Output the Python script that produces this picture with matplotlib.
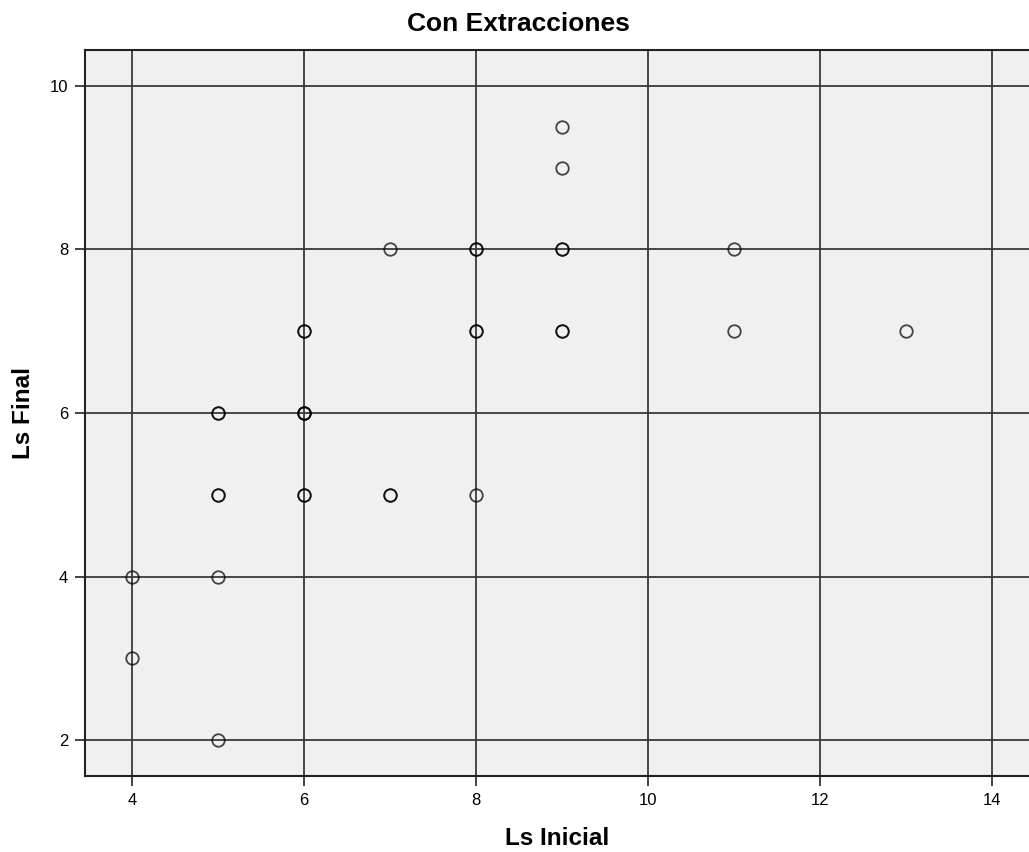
import matplotlib
matplotlib.use("Agg")
import matplotlib.pyplot as plt

plt.rcParams['font.family'] = ['Liberation Sans', 'DejaVu Sans']

ls_inicial = [4, 4, 5, 5, 5, 5, 5, 5, 6, 6, 6, 6, 6, 6, 6, 7, 7, 7,
              8, 8, 8, 8, 8, 9, 9, 9, 9, 9, 9, 11, 11, 13]
ls_final = [4, 3, 6, 6, 5, 5, 4, 2, 7, 7, 6, 6, 6, 5, 5, 8, 5, 5,
            8, 8, 7, 7, 5, 9.5, 9, 8, 8, 7, 7, 8, 7, 7]
x_ticks = [4, 6, 8, 10, 12, 14]
y_ticks = [2, 4, 6, 8, 10]

fig = plt.figure(figsize=(10.29, 8.52), dpi=100)
ax = fig.add_axes([0.0826, 0.0892, 0.9174, 0.8521])
ax.set_facecolor('#f0f0f0')

for t in x_ticks:
    ax.axvline(t, color='#3a3a3a', lw=1.3, zorder=1)
for t in y_ticks:
    ax.axhline(t, color='#3a3a3a', lw=1.3, zorder=1)

ax.plot(ls_inicial, ls_final, linestyle='none', marker='o', markersize=9,
        markerfacecolor='none', markeredgecolor=(0, 0, 0, 0.72),
        markeredgewidth=1.3, zorder=3)

ax.set_xlim(3.453, 14.43)
ax.set_ylim(1.56, 10.44)
ax.set_xticks(x_ticks)
ax.set_yticks(y_ticks)
ax.tick_params(axis='both', length=7, width=1.2, color='#222222',
               labelsize=12, pad=5)
for s in ['left', 'bottom', 'top']:
    ax.spines[s].set_linewidth(1.5)
    ax.spines[s].set_color('#222222')
ax.spines['right'].set_visible(False)

ax.set_title('Con Extracciones', fontsize=19, fontweight='bold', pad=13.5,
             x=0.4587)
ax.set_xlabel('Ls Inicial', fontsize=17.5, fontweight='bold', labelpad=14)
ax.set_ylabel('Ls Final', fontsize=17.5, fontweight='bold', labelpad=11)

fig.savefig('out.png', dpi=100)
